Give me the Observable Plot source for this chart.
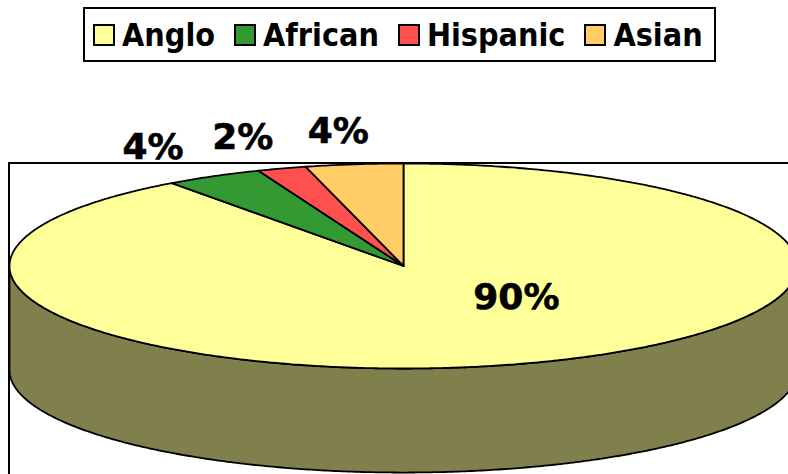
<!DOCTYPE html>
<html><head><meta charset="utf-8">
<script src="https://cdn.jsdelivr.net/npm/d3@7"></script>
<script src="https://cdn.jsdelivr.net/npm/@observablehq/plot@0.6"></script>
<style>
html,body{margin:0;padding:0;background:#fff;overflow:hidden;width:788px;height:474px}
#legendbox{position:absolute;left:83px;top:7px;width:633px;height:55px;box-sizing:border-box;border:2px solid #000;display:flex;align-items:center;padding-left:9px;}
#chart{position:absolute;left:0;top:64px;}
.lg-swatches{font-family:"DejaVu Sans Condensed","DejaVu Sans",sans-serif !important;font-weight:bold !important;font-size:32px !important;font-stretch:condensed;margin:0 !important;flex-wrap:nowrap !important;color:#000 !important;min-height:0 !important}
.lg-swatch{margin-right:20px !important}
.lg-swatch > svg{margin-right:8px !important;overflow:visible}
.lg-swatch rect{stroke:#000;stroke-width:2px}
</style></head>
<body>
<div id="legendbox"></div>
<div id="chart"></div>
<script>
const categories = ["Anglo", "African", "Hispanic", "Asian"];
const shares = [90, 4, 2, 4];
const labels = ["90%", "4%", "2%", "4%"];
const palette = ["#FFFF99", "#339933", "#FF5050", "#FFCC66"];

const total = d3.sum(shares);
let acc = 0;
const slices = categories.map((c, i) => {
  const a0 = acc / total * 360; acc += shares[i];
  const a1 = acc / total * 360;
  return {category: c, a0, a1, label: labels[i]};
});
const rad = Math.PI / 180, step = 0.5;
function arcPts(a0, a1, fn) {
  const n = Math.max(2, Math.ceil((a1 - a0) / step));
  return d3.range(n + 1).map(k => fn(a0 + (a1 - a0) * k / n));
}
const topPts = slices.flatMap(s => [
  {category: s.category, x: 0, y: 0},
  ...arcPts(s.a0, s.a1, a => ({category: s.category, x: Math.sin(a * rad), y: Math.cos(a * rad)})),
  {category: s.category, x: 0, y: 0}
]);
const depth = 1.015;
const side = [
  ...arcPts(90, 270, a => ({x: Math.sin(a * rad), y: Math.cos(a * rad)})),
  ...arcPts(90, 270, a => ({x: Math.sin(a * rad), y: Math.cos(a * rad) - depth})).reverse()
];
side.push(side[0]);
const base = d3.rgb(palette[0]);
const sideColor = d3.rgb(base.r * 0.5, base.g * 0.5, base.b * 0.5).formatHex();

// outside labels sit just beyond the rim along the slice's mid-angle
const labelPts = slices.map(s => {
  const m = (s.a0 + s.a1) / 2;
  const inside = s.a1 - s.a0 > 180;
  const r = inside ? 0.42 : 1.32;
  const a = inside ? m - 25 : m;
  return {label: s.label, x: r * Math.sin(a * rad), y: r * Math.cos(a * rad)};
});

const plot = Plot.plot({
  width: 788, height: 410, margin: 0,
  x: {domain: [-1, 1], range: [9, 797], axis: null},
  y: {domain: [-1, 1], range: [304, 99], axis: null},
  color: {domain: categories, range: palette},
  marks: [
    Plot.rect([0], {x1: -1, x2: 3, y1: 1, y2: -6, fill: "none", stroke: "#000", strokeWidth: 2}),
    Plot.line(side, {x: "x", y: "y", fill: sideColor, stroke: "#000", strokeWidth: 1.8, strokeLinejoin: "round"}),
    Plot.line(topPts, {x: "x", y: "y", z: "category", fill: "category", stroke: "#000", strokeWidth: 1.8, strokeLinejoin: "round"}),
    Plot.text(labelPts, {x: "x", y: "y", text: "label", fontSize: 36, fontWeight: "bold", fontFamily: "DejaVu Sans", fill: "#000", stroke: "#000", strokeWidth: 0.6})
  ]
});
document.getElementById("chart").append(plot);

const legend = Plot.legend({color: {domain: categories, range: palette}, legend: "swatches", swatchSize: 20, className: "lg"});
document.getElementById("legendbox").append(legend);
</script>
</body></html>
